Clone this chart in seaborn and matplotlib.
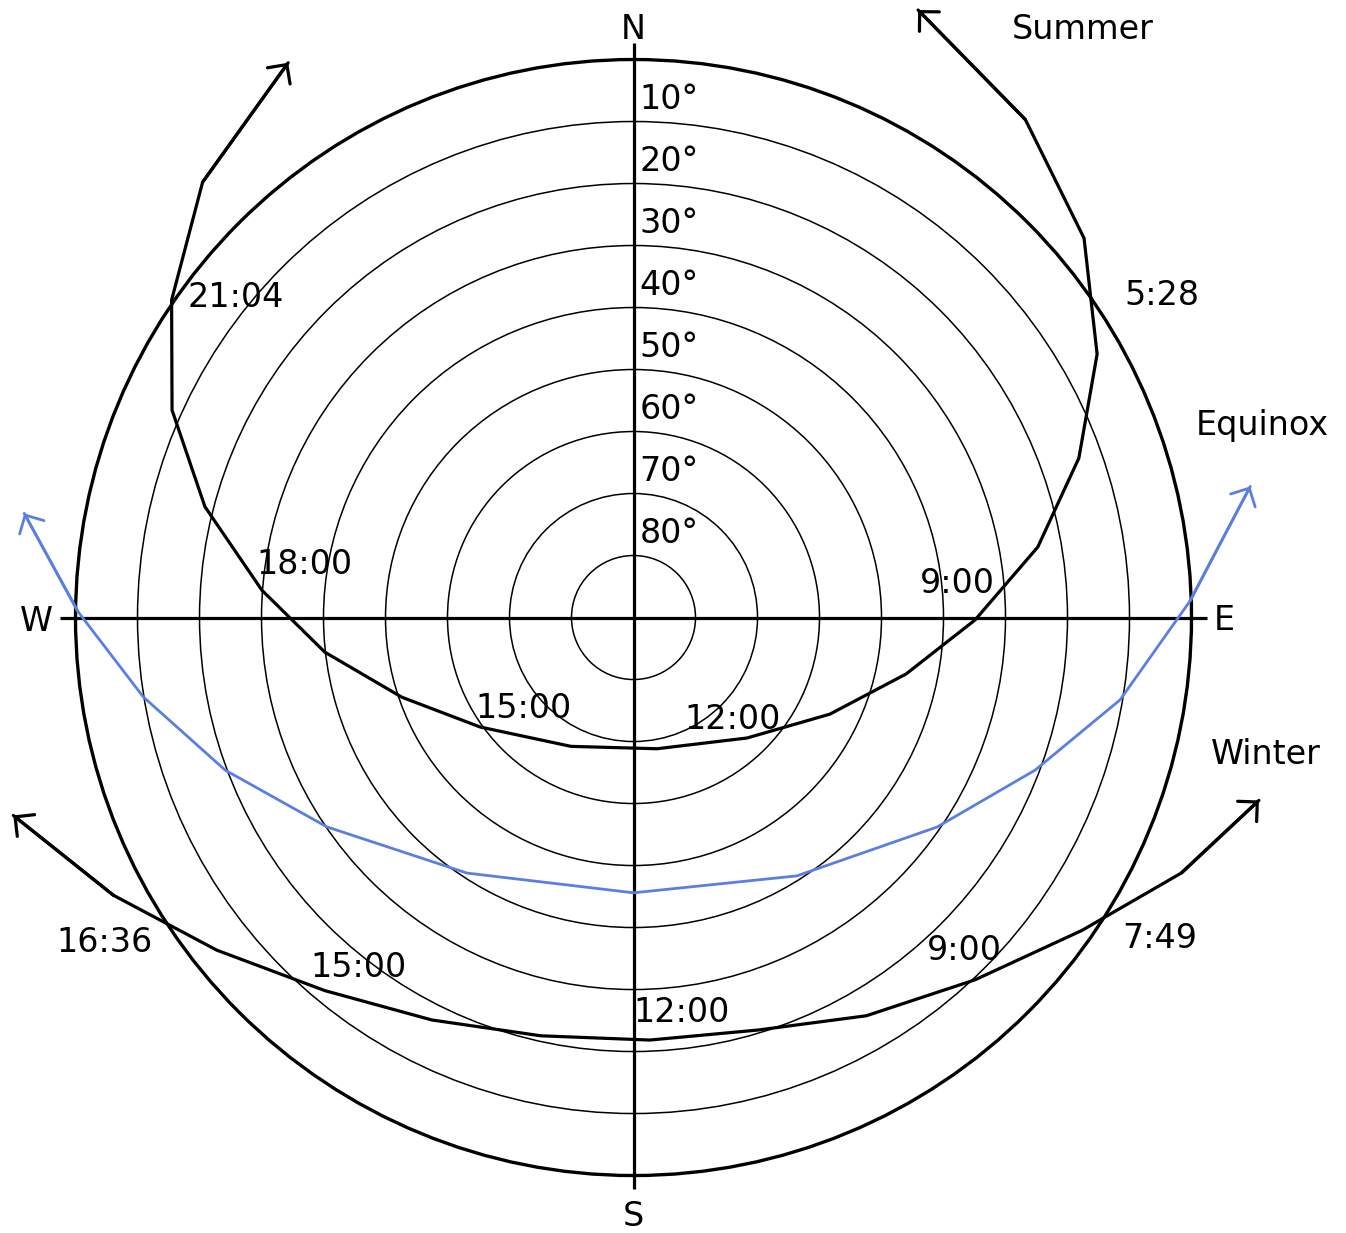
import numpy as np
import pandas as pd
import matplotlib
matplotlib.use("Agg")
import matplotlib.pyplot as plt
from matplotlib.patches import Circle
import seaborn as sns

# Sun positions, morning to evening: azimuth in degrees clockwise from north,
# altitude in degrees above the horizon (negative = below the horizon).
summer_azimuth = [25.1, 38.2, 49.9, 60.4, 70.3, 80.1, 90.4, 101.7, 116.2, 136.7, 169.9,
                  205.9, 234.5, 251.0, 263.6, 274.2, 284.5, 294.2, 304.5, 315.3, 328.1]
summer_altitude = [-18.2, -12.2, -5.0, 4.0, 13.7, 23.8, 34.9, 45.1, 54.7, 63.3, 68.5,
                   66.9, 59.6, 50.5, 39.9, 29.9, 18.6, 8.4, -0.4, -8.8, -15.4]

equinox_azimuth = [78.0, 88.3, 99.6, 110.8, 124.6, 147.7, 180.0,
                   213.1, 235.7, 249.5, 260.8, 270.6, 279.7]
equinox_altitude = [-11.7, 0.2, 10.4, 20.7, 30.5, 40.7, 45.6,
                    40.8, 30.1, 19.7, 9.9, 0.4, -9.7]

winter_azimuth = [106.3, 115.0, 124.9, 136.7, 149.7, 163.2, 177.8,
                  192.5, 206.6, 219.6, 231.4, 241.9, 252.3]
winter_altitude = [-15.1, -7.5, 1.8, 9.7, 15.6, 20.5, 21.8,
                   20.9, 17.4, 11.9, 4.0, -5.1, -15.0]

season_names = ["Summer", "Equinox", "Winter"]
ring_altitudes = [0, 10, 20, 30, 40, 50, 60, 70, 80]
ring_labels = ["10°", "20°", "30°", "40°", "50°", "60°", "70°", "80°"]
summer_times = ["5:28", "9:00", "12:00", "15:00", "18:00", "21:04"]
winter_times = ["7:49", "9:00", "12:00", "15:00", "16:36"]
compass_points = ["N", "E", "S", "W"]

# ---------------------------------------------------------------------------
# Layout (diagram units: one unit per 10 degrees of zenith distance)
summer_time_xy = [(8.52, 5.04), (5.23, 0.40), (1.60, -1.80),
                  (-1.78, -1.62), (-5.31, 0.70), (-6.41, 5.01)]
winter_time_xy = [(8.48, -5.33), (5.33, -5.52), (0.77, -6.52),
                  (-4.44, -5.80), (-8.53, -5.40)]
season_label_xy = [(7.24, 9.33), (10.15, 2.94), (10.20, -2.36)]
compass_xy = [(0.0, 9.33), (9.53, -0.20), (0.0, -9.82), (-9.63, -0.22)]

BLACK = "#000000"
BLUE = "#5a7fe3"
FONT_SIZE = 24
TEXT_KW = dict(fontsize=FONT_SIZE, color=BLACK, zorder=4)


def project(azimuth, altitude):
    az = np.radians(np.asarray(azimuth, dtype=float))
    r = (90.0 - np.asarray(altitude, dtype=float)) / 10.0
    return r * np.sin(az), r * np.cos(az)


frames = []
for name, az, alt in [("Summer", summer_azimuth, summer_altitude),
                      ("Equinox", equinox_azimuth, equinox_altitude),
                      ("Winter", winter_azimuth, winter_altitude)]:
    x, y = project(az, alt)
    frames.append(pd.DataFrame({"season": name, "x": x, "y": y,
                                "step": np.arange(len(x))}))
paths = pd.concat(frames, ignore_index=True)

sns.set_theme(style="white")
plt.rcParams["font.family"] = ["DejaVu Sans"]
plt.rcParams["text.color"] = BLACK

fig = plt.figure(figsize=(13.46, 12.33), dpi=100)
ax = fig.add_axes([0, 0, 1, 1])
ax.set_xlim(-10.218, 11.492)
ax.set_ylim(-9.927, 9.960)
ax.axis("off")

# Altitude rings
for alt in ring_altitudes:
    r = (90 - alt) / 10.0
    lw = 2.4 if alt == 0 else 1.1
    ax.add_patch(Circle((0, 0), r, fill=False, lw=lw, color=BLACK, zorder=1))

# North-south and east-west axes
ax.plot([0, 0], [-9.22, 9.27], color=BLACK, lw=2.3, zorder=2, solid_capstyle="butt")
ax.plot([-9.25, 9.25], [0, 0], color=BLACK, lw=2.3, zorder=2, solid_capstyle="butt")

# Sun paths, with open arrowheads at both ends
styles = {"Summer": (BLACK, 2.3), "Equinox": (BLUE, 2.0), "Winter": (BLACK, 2.3)}
for name in season_names:
    color, lw = styles[name]
    sub = paths[paths["season"] == name]
    sns.lineplot(data=sub, x="x", y="y", sort=False, estimator=None,
                 color=color, lw=lw, ax=ax, zorder=3)
    xs, ys = sub["x"].to_numpy(), sub["y"].to_numpy()
    for tip, tail in [(0, 1), (-1, -2)]:
        ax.annotate("", xy=(xs[tip], ys[tip]), xytext=(xs[tail], ys[tail]),
                    arrowprops=dict(arrowstyle="->,head_length=0.5,head_width=0.5",
                                    color=color, lw=lw, shrinkA=0, shrinkB=0,
                                    mutation_scale=20),
                    zorder=3)

# Altitude labels, placed in each ring just right of the north axis
for i, lab in enumerate(ring_labels):
    y = (9 - i) - 0.5 - 0.1 - 0.19
    ax.text(0.10, y, lab, ha="left", va="baseline", **TEXT_KW)

for lab, (x, y) in zip(summer_times, summer_time_xy):
    ax.text(x, y, lab, ha="center", va="baseline", **TEXT_KW)
for lab, (x, y) in zip(winter_times, winter_time_xy):
    ax.text(x, y, lab, ha="center", va="baseline", **TEXT_KW)
for lab, (x, y) in zip(season_names, season_label_xy):
    ax.text(x, y, lab, ha="center", va="baseline", **TEXT_KW)
for lab, (x, y) in zip(compass_points, compass_xy):
    ax.text(x, y, lab, ha="center", va="baseline", **TEXT_KW)

fig.savefig("out.png", dpi=100, facecolor="white")
